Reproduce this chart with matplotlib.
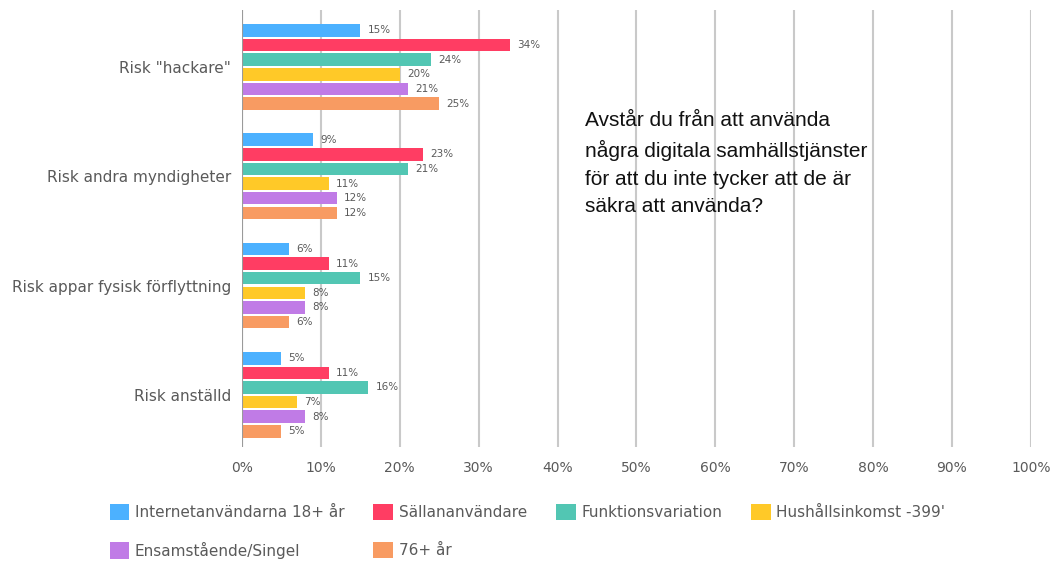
"""Horisontella staplar: risker med digitala samhällstjänster per grupp."""
import matplotlib
matplotlib.use("Agg")
import matplotlib.pyplot as plt
import numpy as np

categories = ["Risk \"hackare\"", "Risk andra myndigheter",
              "Risk appar fysisk förflyttning", "Risk anställd"]
series = ["Internetanvändarna 18+ år", "Sällananvändare", "Funktionsvariation",
          "Hushållsinkomst -399'", "Ensamstående/Singel", "76+ år"]
values = [
    [15, 9, 6, 5],     # Internetanvändarna 18+ år
    [34, 23, 11, 11],  # Sällananvändare
    [24, 21, 15, 16],  # Funktionsvariation
    [20, 11, 8, 7],    # Hushållsinkomst -399'
    [21, 12, 8, 8],    # Ensamstående/Singel
    [25, 12, 6, 5],    # 76+ år
]
colors = ["#4cb1ff", "#ff3d63", "#52c6b3", "#ffc928", "#c07be6", "#f89b62"]
question = ("Avstår du från att använda\nnågra digitala samhällstjänster\n"
            "för att du inte tycker att de är\nsäkra att använda?")

plt.rcParams["font.family"] = ["DejaVu Sans"]
GREY = "#5a5a5a"


def main():
    fig = plt.figure(figsize=(10.55, 5.61), dpi=100)
    ax = fig.add_axes([0.2294, 0.2032, 0.7477, 0.7790])

    y = np.arange(len(categories))
    stride, height = 0.1337, 0.1145
    offsets = (np.arange(len(series)) - (len(series) - 1) / 2) * stride
    handles = []
    for vals, off, col, name in zip(values, offsets, colors, series):
        bars = ax.barh(y + off, vals, height=height, color=col, label=name, zorder=3)
        handles.append(bars)
        for b, v in zip(bars, vals):
            ax.text(b.get_width() + 0.9, b.get_y() + b.get_height() / 2, f"{v}%",
                    va="center", ha="left", fontsize=7.5, color=GREY)

    ax.set_xlim(0, 100)
    ax.set_ylim(3.478, -0.522)
    ax.set_xticks(np.arange(0, 101, 10))
    ax.set_xticklabels([f"{t}%" for t in range(0, 101, 10)])
    ax.set_yticks(y)
    ax.set_yticklabels(categories)
    ax.tick_params(axis="x", length=0, pad=10, labelsize=10, labelcolor=GREY)
    ax.tick_params(axis="y", length=0, pad=8, labelsize=11, labelcolor=GREY)
    for s in ax.spines.values():
        s.set_visible(False)
    ax.xaxis.grid(True, color="#c9c9c9", lw=1.5, zorder=0)
    ax.axvline(0, color="#9a9a9a", lw=1.5, zorder=4)

    fig.text(0.5545, 0.802, question, fontsize=15, family="Liberation Sans",
             va="top", ha="left", color="#111111", linespacing=1.58)

    # legend fills column-wise: reorder so rows read like the original
    order = [0, 4, 1, 5, 2, 3]
    leg = fig.legend([handles[i] for i in order], [series[i] for i in order],
                     ncol=4, loc="lower left", bbox_to_anchor=(0.098, -0.007),
                     frameon=False, fontsize=11, handlelength=1.3, handleheight=1.3,
                     handletextpad=0.35, columnspacing=1.9, labelspacing=1.4,
                     borderaxespad=0)
    for t in leg.get_texts():
        t.set_color(GREY)

    fig.savefig("out.png", dpi=100)


if __name__ == "__main__":
    main()
